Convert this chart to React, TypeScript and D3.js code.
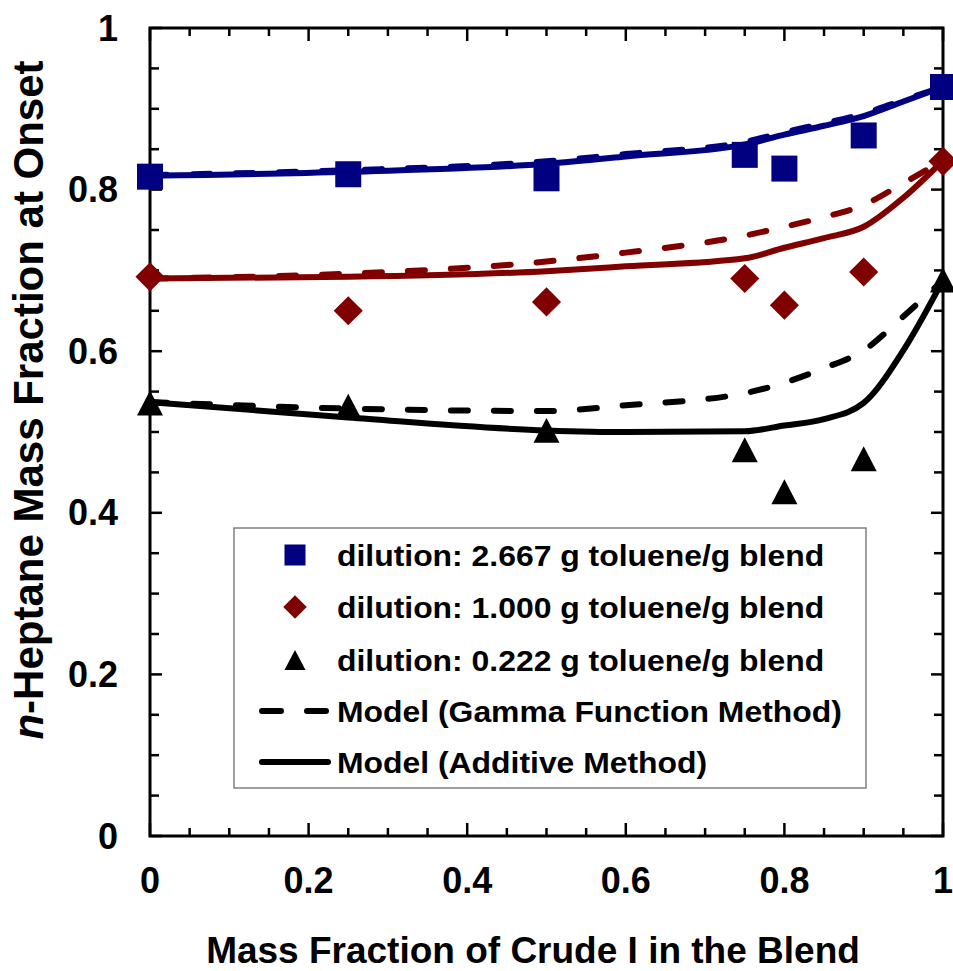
import React from "react";
import * as d3 from "d3";

// ---------- data ----------
const expX = [0, 0.25, 0.5, 0.75, 0.8, 0.9, 1];
const blueExp = [0.816, 0.819, 0.814, 0.843, 0.826, 0.867, 0.927];
const redExp = [0.692, 0.65, 0.661, 0.69, 0.657, 0.698, 0.835];
const blackExp = [0.536, 0.532, 0.502, 0.478, 0.426, 0.467, 0.688];

const modelX = [0, 0.25, 0.5, 0.6, 0.75, 0.8, 0.85, 0.9, 0.95, 1];
const blueAdditive = [0.817, 0.822, 0.832, 0.841, 0.856, 0.868, 0.879, 0.891, 0.909, 0.927];
const blueGamma = [0.818, 0.824, 0.835, 0.844, 0.859, 0.871, 0.882, 0.894, 0.911, 0.927];
const redAdditive = [0.69, 0.692, 0.699, 0.705, 0.715, 0.728, 0.74, 0.754, 0.79, 0.836];
const redGamma = [0.69, 0.696, 0.711, 0.722, 0.743, 0.754, 0.766, 0.781, 0.808, 0.836];
const blackAdditive = [0.537, 0.518, 0.502, 0.5, 0.501, 0.508, 0.516, 0.536, 0.601, 0.688];
const blackGamma = [0.537, 0.529, 0.526, 0.533, 0.548, 0.561, 0.579, 0.601, 0.643, 0.688];

const xTicks = [0, 0.2, 0.4, 0.6, 0.8, 1];
const yTicks = [0, 0.2, 0.4, 0.6, 0.8, 1];
const xTickLabels = ["0", "0.2", "0.4", "0.6", "0.8", "1"];
const yTickLabels = ["0", "0.2", "0.4", "0.6", "0.8", "1"];
const legendLabels = [
  "dilution: 2.667 g toluene/g blend",
  "dilution: 1.000 g toluene/g blend",
  "dilution: 0.222 g toluene/g blend",
  "Model (Gamma Function Method)",
  "Model (Additive Method)",
];

const BLUE = "#000080";
const RED = "#800000";
const BLACK = "#000000";
const FONT = "'Liberation Sans', Arial, Helvetica, sans-serif";

const W = 953;
const H = 971;
const L = 150, R = 943, T = 28, B = 836;

export default function App() {
  const x = d3.scaleLinear().domain([0, 1]).range([L, R]);
  const y = d3.scaleLinear().domain([0, 1]).range([B, T]);

  const line = d3
    .line<[number, number]>()
    .x((d) => x(d[0]))
    .y((d) => y(d[1]))
    .curve(d3.curveMonotoneX);

  const series = [
    { color: BLUE, add: blueAdditive, gam: blueGamma, exp: blueExp, shape: "square" },
    { color: RED, add: redAdditive, gam: redGamma, exp: redExp, shape: "diamond" },
    { color: BLACK, add: blackAdditive, gam: blackGamma, exp: blackExp, shape: "triangle" },
  ];

  const marker = (shape: string, cx: number, cy: number, s: number, color: string, key?: any) => {
    if (shape === "square")
      return <rect key={key} x={cx - s / 2} y={cy - s / 2} width={s} height={s} fill={color} />;
    if (shape === "diamond") {
      const h = s * 0.56;
      return (
        <path key={key} d={`M${cx},${cy - h}L${cx + h},${cy}L${cx},${cy + h}L${cx - h},${cy}Z`} fill={color} />
      );
    }
    const hh = s * 0.48;
    return (
      <path
        key={key}
        d={`M${cx},${cy - hh}L${cx + s / 2},${cy + hh}L${cx - s / 2},${cy + hh}Z`}
        fill={color}
      />
    );
  };

  const minorX = d3.range(0, 1.0001, 0.05).filter((v) => Math.abs(v * 5 - Math.round(v * 5)) > 1e-6);
  const minorY = minorX;

  const legX = 234, legY = 528, legW = 632, legH = 260;
  const rowY = [555, 607, 660, 711, 762];

  return (
    <svg
      width={W}
      height={H}
      style={{ position: "absolute", left: 0, top: 0, background: "#fff" }}
      fontFamily={FONT}
      fontWeight="bold"
    >
      <rect x={0} y={0} width={W} height={H} fill="#fff" />

      {/* ticks */}
      <g stroke="#000" strokeWidth={2.5}>
        {xTicks.map((v, i) => (
          <g key={"xt" + i}>
            <line x1={x(v)} x2={x(v)} y1={B} y2={B - 13} />
            <line x1={x(v)} x2={x(v)} y1={T} y2={T + 13} />
          </g>
        ))}
        {minorX.map((v, i) => (
          <g key={"xm" + i}>
            <line x1={x(v)} x2={x(v)} y1={B} y2={B - 8} />
            <line x1={x(v)} x2={x(v)} y1={T} y2={T + 8} />
          </g>
        ))}
        {yTicks.map((v, i) => (
          <g key={"yt" + i}>
            <line x1={L} x2={L + 12} y1={y(v)} y2={y(v)} />
            <line x1={R} x2={R - 12} y1={y(v)} y2={y(v)} />
          </g>
        ))}
        {minorY.map((v, i) => (
          <g key={"ym" + i}>
            <line x1={L} x2={L + 9} y1={y(v)} y2={y(v)} />
            <line x1={R} x2={R - 9} y1={y(v)} y2={y(v)} />
          </g>
        ))}
      </g>

      {/* frame */}
      <rect x={L} y={T} width={R - L} height={B - T} fill="none" stroke="#000" strokeWidth={3} />

      {/* tick labels */}
      {xTicks.map((v, i) => (
        <text key={"xl" + i} x={x(v)} y={893} textAnchor="middle" fontSize={36}>
          {xTickLabels[i]}
        </text>
      ))}
      {yTicks.map((v, i) => (
        <text key={"yl" + i} x={118} y={y(v) + 12.5} textAnchor="end" fontSize={36}>
          {yTickLabels[i]}
        </text>
      ))}

      {/* axis titles */}
      <text x={533} y={963} textAnchor="middle" fontSize={37}>
        Mass Fraction of Crude I in the Blend
      </text>
      <text transform="translate(43,400) rotate(-90)" textAnchor="middle" fontSize={42}>
        <tspan fontStyle="italic">n</tspan>
        <tspan>-Heptane Mass Fraction at Onset</tspan>
      </text>

      {/* model lines */}
      {series.map((s, i) => (
        <g key={"ln" + i} fill="none" stroke={s.color} strokeWidth={6}>
          <path d={line(modelX.map((v, j) => [v, s.add[j]] as [number, number])) || ""} />
          <path
            d={line(modelX.map((v, j) => [v, s.gam[j]] as [number, number])) || ""}
            strokeDasharray="17,26"
            strokeLinecap="round"
          />
        </g>
      ))}

      {/* experimental markers */}
      {series.map((s, i) => (
        <g key={"mk" + i}>{expX.map((v, j) => marker(s.shape, x(v), y(s.exp[j]), 26, s.color, j))}</g>
      ))}

      {/* legend */}
      <rect x={legX} y={legY} width={legW} height={legH} fill="#fff" stroke="#808080" strokeWidth={1.5} />
      {series.map((s, i) => marker(s.shape, 295, rowY[i], 21, s.color, "lg" + i))}
      <line x1={262} x2={326} y1={rowY[3]} y2={rowY[3]} stroke="#000" strokeWidth={6} strokeDasharray="19,26" strokeLinecap="round" />
      <line x1={262} x2={328} y1={rowY[4]} y2={rowY[4]} stroke="#000" strokeWidth={6} strokeLinecap="round" />
      {legendLabels.map((t, i) => (
        <g key={"lt" + i} transform={`translate(337,${rowY[i] + 10.5}) scale(1.1,1)`}>
          <text x={0} y={0} fontSize={29}>
            {t}
          </text>
        </g>
      ))}
    </svg>
  );
}
